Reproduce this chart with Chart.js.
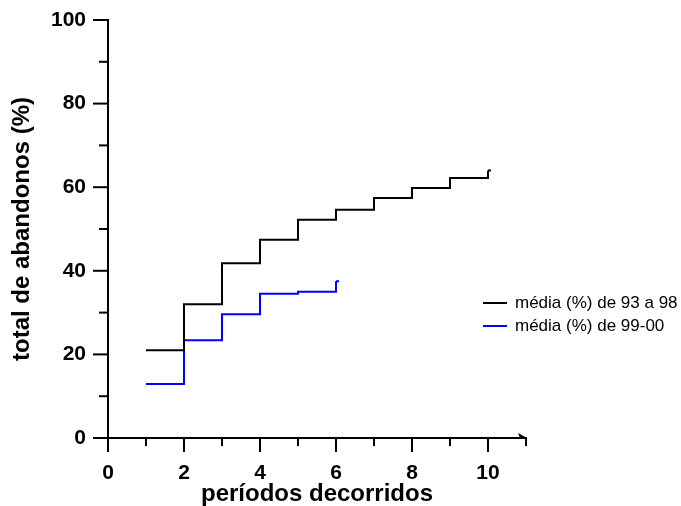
<!DOCTYPE html>
<html>
<head>
<meta charset="utf-8">
<script src="https://cdn.jsdelivr.net/npm/chart.js@4"></script>
<style>
  html, body { margin: 0; padding: 0; background: #fff; }
  #wrap { width: 681px; height: 506px; }
</style>
</head>
<body>
<div id="wrap"><canvas id="chart"></canvas></div>
<script>
  // períodos (x) e valores
  const periodsOld = [1, 2, 3, 4, 5, 6, 7, 8, 9, 10];
  const valuesOld = [21.0, 32.0, 41.8, 47.4, 52.2, 54.6, 57.4, 59.8, 62.2, 64.0];
  const periodsNew = [1, 2, 3, 4, 5, 6];
  const valuesNew = [12.9, 23.4, 29.6, 34.5, 35.0, 37.5];
  const seriesLabels = ["média (%) de 93 a 98", "média (%) de 99-00"];
  const xTickLabels = [0, 2, 4, 6, 8, 10];
  const yTickLabels = [0, 20, 40, 60, 80, 100];

  const FONT = "'Liberation Sans', Arial, sans-serif";

  function toPoints(xs, ys) {
    return xs.map((x, i) => ({ x: x, y: ys[i] }));
  }

  function lastOnly(len, r) {
    return (ctx) => (ctx.dataIndex === len - 1 ? r : 0);
  }

  // major/minor tick marks drawn from the scales
  const tickMarks = {
    id: "tickMarks",
    afterDraw(chart) {
      const { ctx, scales, chartArea } = chart;
      ctx.save();
      ctx.strokeStyle = "#000";
      ctx.lineWidth = 2;
      scales.y.ticks.forEach((t) => {
        const py = scales.y.getPixelForValue(t.value);
        const len = yTickLabels.includes(t.value) ? 15 : 9;
        ctx.beginPath();
        ctx.moveTo(chartArea.left, py);
        ctx.lineTo(chartArea.left - len, py);
        ctx.stroke();
      });
      scales.x.ticks.forEach((t) => {
        const px = scales.x.getPixelForValue(t.value);
        const len = xTickLabels.includes(t.value) ? 14 : 8;
        ctx.beginPath();
        ctx.moveTo(px, chartArea.bottom);
        ctx.lineTo(px, chartArea.bottom + len);
        ctx.stroke();
      });
      // small arrow head at the end of the x axis
      const xe = scales.x.getPixelForValue(scales.x.max);
      const yb = chartArea.bottom;
      ctx.fillStyle = "#000";
      ctx.beginPath();
      ctx.moveTo(xe - 8, yb - 5);
      ctx.lineTo(xe + 1, yb);
      ctx.lineTo(xe - 6, yb);
      ctx.closePath();
      ctx.fill();
      ctx.restore();
    },
  };

  // legend placed to the right like in the original
  const sideLegend = {
    id: "sideLegend",
    afterDraw(chart) {
      const { ctx } = chart;
      ctx.save();
      ctx.font = "17px " + FONT;
      ctx.textBaseline = "middle";
      ctx.textAlign = "left";
      chart.data.datasets.forEach((ds, i) => {
        const y = 303 + i * 23;
        ctx.strokeStyle = ds.borderColor;
        ctx.lineWidth = 2;
        ctx.beginPath();
        ctx.moveTo(483, y);
        ctx.lineTo(507, y);
        ctx.stroke();
        ctx.fillStyle = "#000";
        ctx.fillText(ds.label, 515, y);
      });
      ctx.restore();
    },
  };

  new Chart(document.getElementById("chart"), {
    type: "line",
    data: {
      datasets: [
        {
          label: seriesLabels[0],
          data: toPoints(periodsOld, valuesOld),
          borderColor: "#000000",
          borderWidth: 2,
          stepped: "before",
          pointStyle: "dash",
          pointRadius: lastOnly(periodsOld.length, 3),
          pointBorderColor: "#000000",
          pointBorderWidth: 2,
          fill: false,
          clip: false,
        },
        {
          label: seriesLabels[1],
          data: toPoints(periodsNew, valuesNew),
          borderColor: "#0000ff",
          borderWidth: 2,
          stepped: "before",
          pointStyle: "dash",
          pointRadius: lastOnly(periodsNew.length, 3),
          pointBorderColor: "#0000ff",
          pointBorderWidth: 2,
          fill: false,
          clip: false,
        },
      ],
    },
    options: {
      responsive: true,
      maintainAspectRatio: false,
      animation: false,
      layout: { padding: { top: 20, right: 155, left: 0, bottom: 0 } },
      plugins: {
        legend: { display: false },
        tooltip: { enabled: false },
      },
      scales: {
        x: {
          type: "linear",
          min: 0,
          max: 11,
          afterFit(scale) { scale.height = 68; },
          grid: { drawOnChartArea: false, color: "rgba(0,0,0,0)", tickLength: 13 },
          border: { display: true, color: "#000", width: 2 },
          ticks: {
            stepSize: 1,
            autoSkip: false,
            maxRotation: 0,
            padding: 10,
            color: "#000",
            font: { family: FONT, size: 21, weight: "bold" },
            callback: (v) => (xTickLabels.includes(v) ? String(v) : ""),
          },
          title: {
            display: true,
            text: "períodos decorridos",
            color: "#000",
            font: { family: FONT, size: 24, weight: "bold", lineHeight: 0.94 },
            padding: { top: 0, bottom: 0 },
          },
        },
        y: {
          min: 0,
          max: 100,
          afterFit(scale) { scale.width = 108; },
          grid: { drawOnChartArea: false, color: "rgba(0,0,0,0)", tickLength: 15 },
          border: { display: true, color: "#000", width: 2 },
          ticks: {
            stepSize: 10,
            autoSkip: false,
            padding: 7,
            color: "#000",
            font: { family: FONT, size: 21, weight: "bold" },
            callback: (v) => (yTickLabels.includes(v) ? String(v) : ""),
          },
          title: {
            display: true,
            text: "total de abandonos (%)",
            color: "#000",
            font: { family: FONT, size: 24, weight: "bold", lineHeight: 1.2 },
            padding: { top: 7.6, bottom: 0 },
          },
        },
      },
    },
    plugins: [tickMarks, sideLegend],
  });
</script>
</body>
</html>
